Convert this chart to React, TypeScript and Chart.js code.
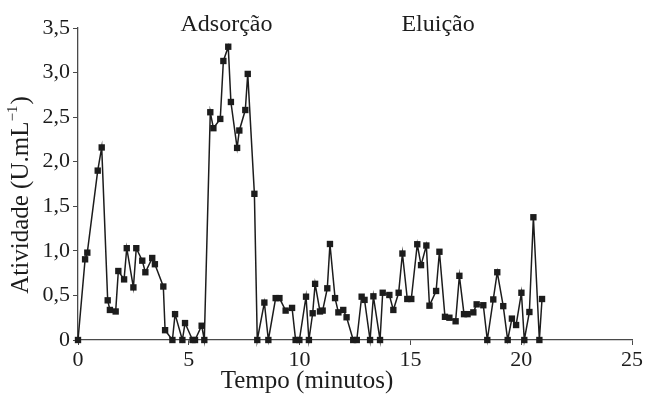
import React, { useEffect, useRef } from "react";
import { Chart, registerables } from "chart.js";

Chart.register(...registerables);

// ---- data ----
const timeMin = [
  0, 0.32, 0.42, 0.89, 1.07, 1.34, 1.44, 1.7, 1.82, 2.08, 2.2, 2.5, 2.63, 2.9, 3.04, 3.35, 3.47, 3.85, 3.93,
  4.26, 4.38, 4.71, 4.83, 5.17, 5.28, 5.58, 5.7, 5.97, 6.11, 6.42, 6.56, 6.78, 6.9, 7.18, 7.28, 7.55, 7.66,
  7.96, 8.09, 8.41, 8.59, 8.92, 9.09, 9.37, 9.66, 9.82, 9.99, 10.29, 10.42, 10.59, 10.7, 10.92, 11.04, 11.25,
  11.37, 11.6, 11.75, 11.97, 12.12, 12.42, 12.58, 12.8, 12.93, 13.18, 13.33, 13.63, 13.75, 14.05, 14.23, 14.47,
  14.64, 14.86, 15.04, 15.31, 15.48, 15.72, 15.86, 16.16, 16.31, 16.56, 16.76, 17.04, 17.21, 17.42, 17.58,
  17.84, 17.99, 18.29, 18.47, 18.74, 18.92, 19.19, 19.39, 19.58, 19.77, 20.01, 20.14, 20.37, 20.55, 20.82, 20.94,
];
const activity = [
  0, 0.905, 0.98, 1.9, 2.16, 0.445, 0.337, 0.32, 0.774, 0.68, 1.03, 0.59, 1.03, 0.89, 0.76, 0.92, 0.85, 0.6, 0.11,
  0, 0.29, 0, 0.19, 0, 0, 0.16, 0, 2.555, 2.376, 2.48, 3.13, 3.29, 2.67, 2.155, 2.35, 2.58, 2.985,
  1.64, 0, 0.42, 0, 0.47, 0.47, 0.33, 0.36, 0, 0, 0.486, 0, 0.3, 0.63, 0.32, 0.33, 0.58,
  1.077, 0.47, 0.31, 0.337, 0.255, 0, 0, 0.486, 0.45, 0, 0.49, 0, 0.53, 0.505, 0.337, 0.53,
  0.97, 0.46, 0.46, 1.074, 0.84, 1.06, 0.385, 0.55, 0.99, 0.26, 0.25, 0.21, 0.72, 0.29, 0.29,
  0.31, 0.4, 0.39, 0, 0.455, 0.76, 0.38, 0, 0.24, 0.168, 0.53, 0, 0.314, 1.377, 0, 0.46,
];
const xTickValues = [0, 5, 10, 15, 20, 25];
const xTickLabels = ["0", "5", "10", "15", "20", "25"];
const yTickValues = [0, 0.5, 1, 1.5, 2, 2.5, 3, 3.5];
const yTickLabels = ["0", "0,5", "1,0", "1,5", "2,0", "2,5", "3,0", "3,5"];
const phaseLabels = ["Adsorção", "Eluição"];
const phaseCenters = [6.7, 16.25];
const xTitle = "Tempo (minutos)";
const yTitleMain = "Atividade (U.mL";
const yTitleSup = "\u22121";
const yTitleEnd = ")";

const FONT = '"Liberation Serif", "DejaVu Serif", "Times New Roman", serif';
const FS = 22;
const FS_TITLE = 25;
const FS_PHASE = 24;
const AXIS = "#4a4a4a";
const INK = "#1c1c1c";

const textPlugin = {
  id: "customTexts",
  afterDraw(chart: any) {
    const { ctx, chartArea } = chart;
    const xs = chart.scales.x;
    ctx.save();
    ctx.fillStyle = INK;
    // phase annotations
    ctx.font = `${FS_PHASE}px ${FONT}`;
    ctx.textAlign = "center";
    ctx.textBaseline = "alphabetic";
    phaseLabels.forEach((t, i) => {
      ctx.fillText(t, xs.getPixelForValue(phaseCenters[i]), chartArea.top + 3);
    });
    // x title
    ctx.font = `${FS_TITLE}px ${FONT}`;
    ctx.textBaseline = "middle";
    ctx.fillText(xTitle, chartArea.left + 229, chartArea.bottom + 41);
    // y title (rotated, with superscript)
    const cx = chartArea.left - 57;
    const cy = (chartArea.top + chartArea.bottom) / 2 + 11;
    ctx.translate(cx, cy);
    ctx.rotate(-Math.PI / 2);
    ctx.textAlign = "left";
    const supFont = `${Math.round(FS_TITLE * 0.6)}px ${FONT}`;
    const mainFont = `${FS_TITLE}px ${FONT}`;
    ctx.font = mainFont;
    const w1 = ctx.measureText(yTitleMain).width;
    const w3 = ctx.measureText(yTitleEnd).width;
    ctx.font = supFont;
    const w2 = ctx.measureText(yTitleSup).width;
    let x0 = -(w1 + w2 + w3 + 1) / 2;
    ctx.font = mainFont;
    ctx.fillText(yTitleMain, x0, 0);
    x0 += w1;
    ctx.font = supFont;
    ctx.fillText(yTitleSup, x0, -8);
    x0 += w2 + 1;
    ctx.font = mainFont;
    ctx.fillText(yTitleEnd, x0, 0);
    ctx.restore();
  },
};

export default function App() {
  const ref = useRef<HTMLCanvasElement>(null);
  useEffect(() => {
    if (!ref.current) return;
    const points = timeMin.map((t, i) => ({ x: t, y: activity[i] }));
    const chart = new Chart(ref.current, {
      type: "line",
      data: {
        datasets: [
          {
            data: points,
            borderColor: INK,
            borderWidth: 1.5,
            pointStyle: "rect",
            pointRadius: 4.5,
            pointBorderWidth: 0,
            pointBackgroundColor: INK,
            tension: 0,
            clip: false as any,
          },
        ],
      },
      options: {
        animation: false,
        responsive: true,
        maintainAspectRatio: false,
        layout: { padding: { left: 0, right: 16, top: 28, bottom: 0 } },
        plugins: { legend: { display: false }, tooltip: { enabled: false }, title: { display: false } },
        scales: {
          x: {
            type: "linear",
            min: 0,
            max: 25,
            afterBuildTicks: (s: any) => {
              s.ticks = xTickValues.map((v) => ({ value: v }));
            },
            afterFit: (s: any) => {
              s.height = 57;
              s.paddingLeft = 0;
              s.paddingRight = 0;
            },
            ticks: {
              autoSkip: false,
              maxRotation: 0,
              padding: 2,
              color: INK,
              font: { family: FONT, size: FS },
              callback: (_v: any, i: number) => xTickLabels[i],
            },
            grid: { display: true, drawOnChartArea: false, drawTicks: true, tickLength: 5, color: AXIS },
            border: { display: true, color: AXIS, width: 1.3 },
          },
          y: {
            type: "linear",
            min: 0,
            max: 3.5,
            afterBuildTicks: (s: any) => {
              s.ticks = yTickValues.map((v) => ({ value: v }));
            },
            afterFit: (s: any) => {
              s.width = 78;
              s.paddingTop = 0;
              s.paddingBottom = 0;
            },
            ticks: {
              autoSkip: false,
              padding: 3,
              color: INK,
              font: { family: FONT, size: FS },
              callback: (_v: any, i: number) => yTickLabels[i],
            },
            grid: { display: true, drawOnChartArea: false, drawTicks: true, tickLength: 5, color: AXIS },
            border: { display: true, color: AXIS, width: 1.3 },
          },
        },
      },
      plugins: [textPlugin],
    });
    return () => chart.destroy();
  }, []);
  return (
    <div style={{ position: "fixed", left: 0, top: 0, width: 648, height: 397, background: "#fff" }}>
      <canvas ref={ref} />
    </div>
  );
}
